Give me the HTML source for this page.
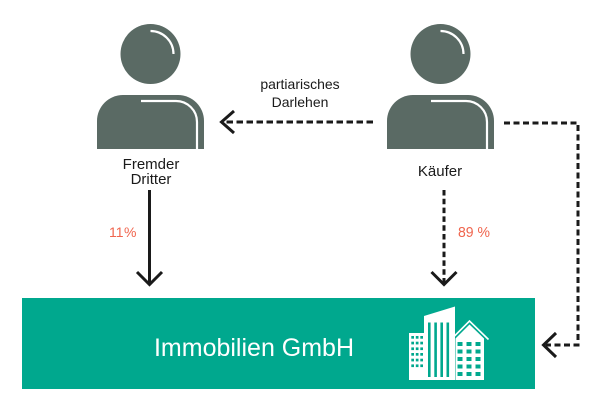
<!DOCTYPE html>
<html>
<head>
<meta charset="utf-8">
<style>
  html,body{margin:0;padding:0;background:#fff;}
  svg{display:block;}
  text{font-family:"Liberation Sans",sans-serif;}
</style>
</head>
<body>
<svg width="600" height="410" viewBox="0 0 600 410" xmlns="http://www.w3.org/2000/svg">
  <rect x="0" y="0" width="600" height="410" fill="#fff"/>

  <!-- Person 1 -->
  <g>
    <circle cx="150.5" cy="54" r="30" fill="#5a6a64"/>
    <path d="M150.5 31 A23 23 0 0 1 173.5 54" fill="none" stroke="#fff" stroke-width="2.2"/>
    <path d="M97 149 V121 A26 26 0 0 1 123 95 H178 A26 26 0 0 1 204 121 V149 Z" fill="#5a6a64"/>
    <path d="M141 101 H176 A21 21 0 0 1 197 122 V149" fill="none" stroke="#fff" stroke-width="2.2"/>
  </g>
  <!-- Person 2 -->
  <g transform="translate(290,0)">
    <circle cx="150.5" cy="54" r="30" fill="#5a6a64"/>
    <path d="M150.5 31 A23 23 0 0 1 173.5 54" fill="none" stroke="#fff" stroke-width="2.2"/>
    <path d="M97 149 V121 A26 26 0 0 1 123 95 H178 A26 26 0 0 1 204 121 V149 Z" fill="#5a6a64"/>
    <path d="M141 101 H176 A21 21 0 0 1 197 122 V149" fill="none" stroke="#fff" stroke-width="2.2"/>
  </g>

  <!-- Labels -->
  <text x="151" y="169" font-size="15" fill="#1a1a1a" text-anchor="middle">Fremder</text>
  <text x="151" y="184" font-size="15" fill="#1a1a1a" text-anchor="middle">Dritter</text>
  <text x="440" y="176" font-size="15" fill="#1a1a1a" text-anchor="middle">Käufer</text>
  <text x="300" y="89" font-size="14" fill="#1a1a1a" text-anchor="middle">partiarisches</text>
  <text x="300" y="107" font-size="14" fill="#1a1a1a" text-anchor="middle">Darlehen</text>

  <!-- Dashed arrow Käufer -> Fremder Dritter -->
  <line x1="373" y1="122" x2="222" y2="122" stroke="#1a1a1a" stroke-width="3" stroke-dasharray="6.5 3.5"/>
  <polyline points="234,111 221.5,122 234,133" fill="none" stroke="#1a1a1a" stroke-width="3"/>

  <!-- Solid arrow Fremder -> GmbH -->
  <line x1="149.5" y1="190" x2="149.5" y2="284" stroke="#1a1a1a" stroke-width="3"/>
  <polyline points="137,272 149.5,284.5 162,272" fill="none" stroke="#1a1a1a" stroke-width="3"/>
  <text x="109" y="237" font-size="14" fill="#f0654e">11</text>
  <text x="124" y="237" font-size="14" fill="#f0654e">%</text>

  <!-- Dashed arrow Käufer -> GmbH -->
  <line x1="444" y1="190" x2="444" y2="283" stroke="#1a1a1a" stroke-width="3" stroke-dasharray="5.5 3.3"/>
  <polyline points="431.5,272 444,284.5 456.5,272" fill="none" stroke="#1a1a1a" stroke-width="3"/>
  <text x="458" y="237" font-size="15" fill="#f0654e" textLength="32" lengthAdjust="spacingAndGlyphs">89 %</text>

  <!-- Right dashed path -->
  <polyline points="504,123 578,123 578,345 546,345" fill="none" stroke="#1a1a1a" stroke-width="3" stroke-dasharray="6 3.5"/>
  <polyline points="556,333 543.5,345 556,357" fill="none" stroke="#1a1a1a" stroke-width="3"/>

  <!-- Green box -->
  <rect x="22" y="298" width="513" height="91" fill="#00a88e"/>
  <text x="254" y="356" font-size="25" fill="#fff" text-anchor="middle">Immobilien GmbH</text>

  <!-- Building icon -->
  <g>
    <!-- left building -->
    <rect x="409" y="333" width="16" height="47" fill="#fff"/>
    <g fill="#00a88e">
      <rect x="411.3" y="336" width="2.7" height="2.7"/><rect x="415.8" y="336" width="2.7" height="2.7"/><rect x="420.3" y="336" width="2.7" height="2.7"/>
      <rect x="411.3" y="341.7" width="2.7" height="2.7"/><rect x="415.8" y="341.7" width="2.7" height="2.7"/><rect x="420.3" y="341.7" width="2.7" height="2.7"/>
      <rect x="411.3" y="347.4" width="2.7" height="2.7"/><rect x="415.8" y="347.4" width="2.7" height="2.7"/><rect x="420.3" y="347.4" width="2.7" height="2.7"/>
      <rect x="411.3" y="353" width="2.7" height="2.7"/><rect x="415.8" y="353" width="2.7" height="2.7"/><rect x="420.3" y="353" width="2.7" height="2.7"/>
      <rect x="411.3" y="358.7" width="2.7" height="2.7"/><rect x="415.8" y="358.7" width="2.7" height="2.7"/><rect x="420.3" y="358.7" width="2.7" height="2.7"/>
      <rect x="411.3" y="364.4" width="2.7" height="2.7"/><rect x="415.8" y="364.4" width="2.7" height="2.7"/><rect x="420.3" y="364.4" width="2.7" height="2.7"/>
    </g>
    <!-- middle tall building -->
    <polygon points="424,316 455,306.5 455,380 424,380" fill="#fff"/>
    <g fill="#00a88e">
      <rect x="428" y="322.5" width="2.6" height="54.5"/>
      <rect x="434.3" y="322.5" width="2.6" height="54.5"/>
      <rect x="440.4" y="322.5" width="2.6" height="54.5"/>
      <rect x="446.5" y="322.5" width="2.6" height="54.5"/>
    </g>
    <!-- right gabled building -->
    <polyline points="452,338.5 469.5,321 488.5,339.5" fill="none" stroke="#fff" stroke-width="1.6"/>
    <polygon points="455.5,338.5 469.5,324.5 484,338.5 484,380 455.5,380" fill="#fff"/>
    <g fill="#00a88e">
      <rect x="457.5" y="342" width="5" height="4"/><rect x="466.5" y="342" width="5" height="4"/><rect x="475.5" y="342" width="5" height="4"/>
      <rect x="457.5" y="349.5" width="5" height="4"/><rect x="466.5" y="349.5" width="5" height="4"/><rect x="475.5" y="349.5" width="5" height="4"/>
      <rect x="457.5" y="357" width="5" height="4"/><rect x="466.5" y="357" width="5" height="4"/><rect x="475.5" y="357" width="5" height="4"/>
      <rect x="457.5" y="364.5" width="5" height="4"/><rect x="466.5" y="364.5" width="5" height="4"/><rect x="475.5" y="364.5" width="5" height="4"/>
      <rect x="457.5" y="372" width="5" height="4"/><rect x="466.5" y="372" width="5" height="4"/><rect x="475.5" y="372" width="5" height="4"/>
    </g>
  </g>
</svg>
</body>
</html>
